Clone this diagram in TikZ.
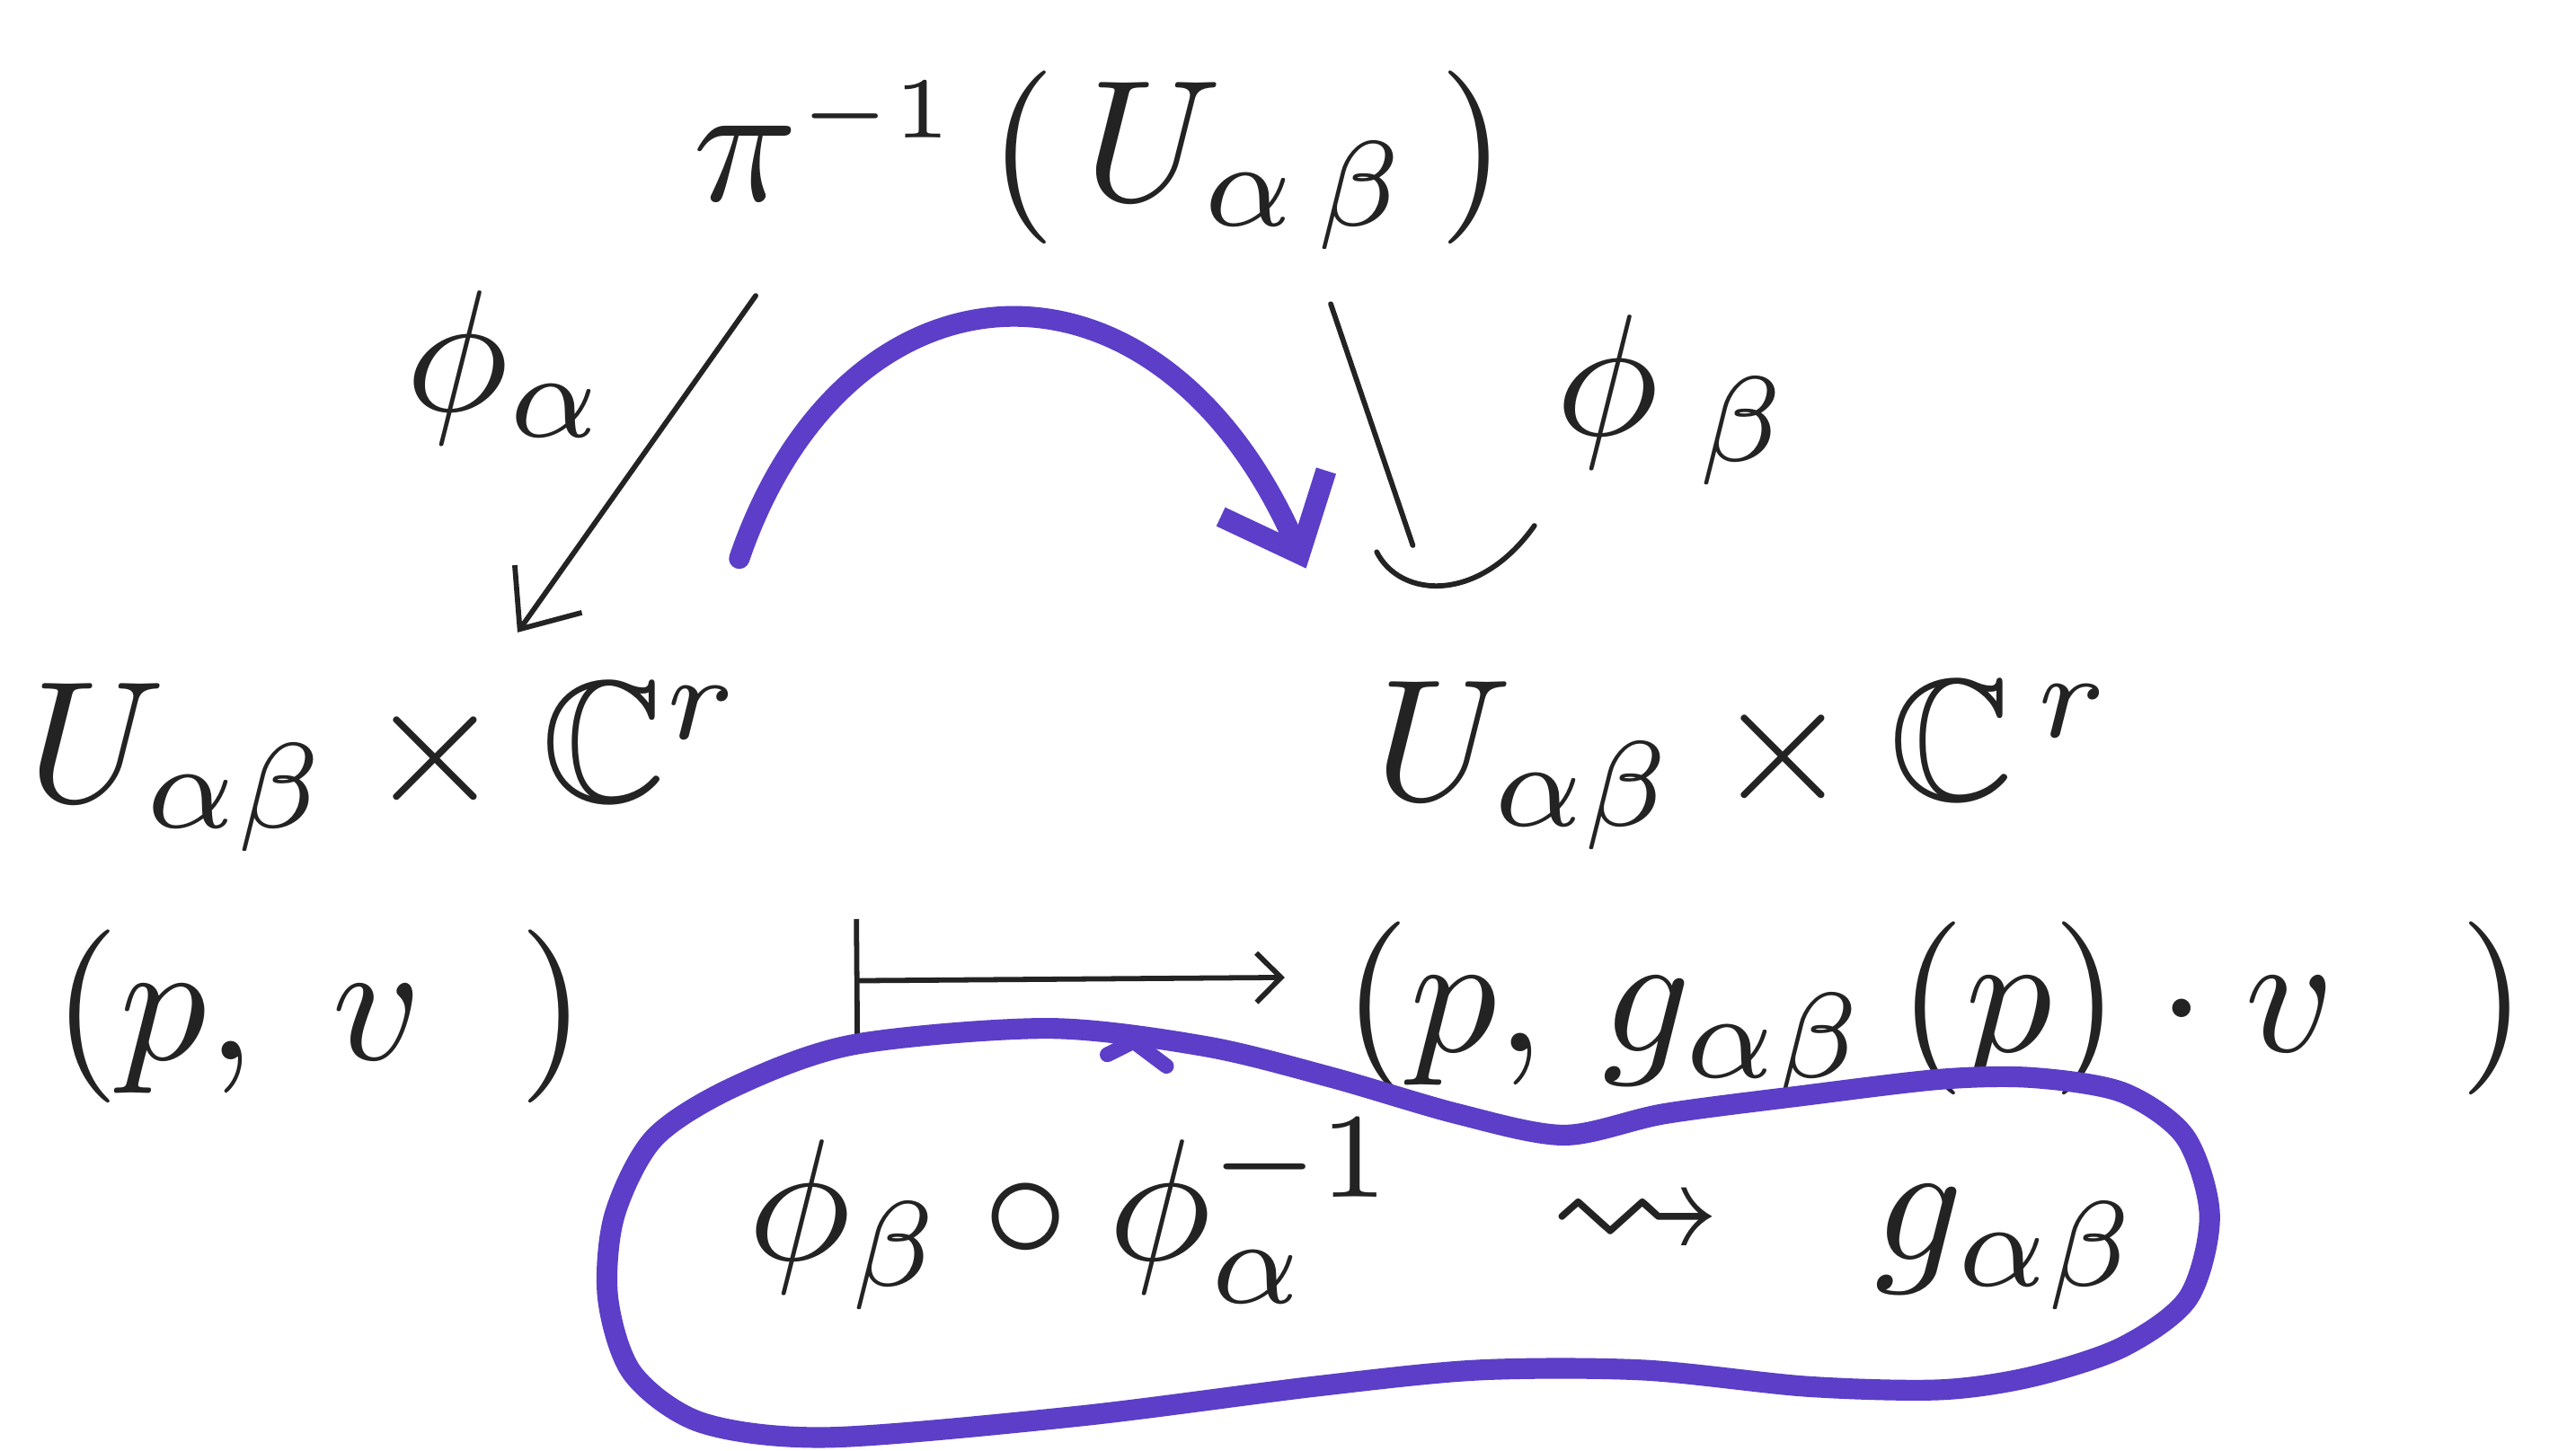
\documentclass[tikz,border=0pt]{standalone}
\usepackage{amssymb}
\usetikzlibrary{arrows.meta}
\definecolor{pen}{RGB}{35,35,35}
\definecolor{marker}{RGB}{92,62,200}
\begin{document}
\begin{tikzpicture}[x=0.1mm,y=-0.1mm,
  hand/.style={scale=3, inner sep=0pt, text=pen, anchor=base west},
  pencil/.style={draw=pen, line width=0.9pt, line cap=round, line join=round},
  marker/.style={draw=marker, line width=3.6pt, line cap=round, line join=round}]
\fill[white] (0,0) rectangle (1568,883);
\useasboundingbox (0,0) rectangle (1568,883);

% text nodes
\node[hand] (top) at (420,122) {$\pi^{\scriptscriptstyle -1}\,(\,U_{\alpha\,\beta}\,)$};
\node[hand] (phia) at (245,250) {$\phi_{\alpha}$};
\node[hand] (phib) at (945,265) {$\phi_{\;\beta}$};
\node[hand] (L) at (15,488) {$U_{\alpha\beta}\times\mathbb{C}^{r}$};
\node[hand] (R) at (835,487) {$U_{\alpha\beta}\times\mathbb{C}^{\,r}$};
\node[hand] (pv) at (30,645) {$(p,\;v\;\;)$};
\node[hand] (pg) at (815,640) {$(p,\,g_{\alpha\beta}\,(p)\cdot v\;\;\,)$};
\node[hand] (comp) at (453,767) {$\phi_\beta\circ\phi_\alpha^{-1}\hspace{0.6em}\rightsquigarrow\hspace{0.6em}g_{\alpha\beta}$};

% phi_alpha arrow
\coordinate (a1) at (460,180);
\coordinate (a2) at (315,385);
\draw[pencil, -{Straight Barb[length=3mm,width=5mm]}] (a1) -- (a2);

% phi_beta arrow with hand-drawn hook head
\coordinate (b1) at (810,185);
\coordinate (b2) at (860,332);
\draw[pencil] (b1) -- (b2);
\draw[pencil] (838,336) .. controls (852,364) and (900,368) .. (934,320);

% purple curved arrow
\coordinate (c1) at (450,340);
\coordinate (c2) at (795,346);
\draw[marker, -{Straight Barb[length=4mm,width=7mm]}] (c1) .. controls (515,150) and (705,140) .. (c2);

% mapsto arrow
\coordinate (m1) at (520,597);
\coordinate (m2) at (782,595);
\draw[pencil, {Bar[width=7.5mm]}-{Straight Barb[length=1.5mm,width=3mm]}] (m1) -- (m2);

% purple blob
\draw[marker] plot[smooth cycle, tension=0.5] coordinates {
  (519,636) (638,626) (734,637) (811,656) (887,678) (952,691) (1013,678)
  (1097,667) (1181,657) (1237,656) (1292,665) (1330,692) (1345,740)
  (1332,790) (1292,820) (1237,838) (1181,846) (1100,844) (1000,834)
  (900,834) (800,844) (657,862) (504,875) (427,866) (385,836) (370,790)
  (374,740) (398,693) (446,662)};
\draw[marker, line width=2.6pt] (674,642) -- (690,634) -- (710,649);
\end{tikzpicture}
\end{document}
